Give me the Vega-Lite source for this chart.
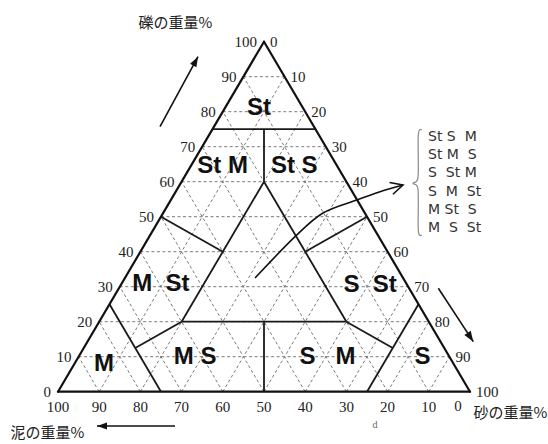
{
  "$schema": "https://vega.github.io/schema/vega-lite/v6.json",
  "width": 548,
  "height": 444,
  "autosize": {"type": "none"},
  "padding": 0,
  "background": "white",
  "config": {"view": {"stroke": null}},
  "datasets": {
    "grid": [
      {"gravel_a": 10, "sand_a": 0, "gravel_b": 10, "sand_b": 90},
      {"gravel_a": 20, "sand_a": 0, "gravel_b": 20, "sand_b": 80},
      {"gravel_a": 30, "sand_a": 0, "gravel_b": 30, "sand_b": 70},
      {"gravel_a": 40, "sand_a": 0, "gravel_b": 40, "sand_b": 60},
      {"gravel_a": 50, "sand_a": 0, "gravel_b": 50, "sand_b": 50},
      {"gravel_a": 60, "sand_a": 0, "gravel_b": 60, "sand_b": 40},
      {"gravel_a": 70, "sand_a": 0, "gravel_b": 70, "sand_b": 30},
      {"gravel_a": 80, "sand_a": 0, "gravel_b": 80, "sand_b": 20},
      {"gravel_a": 90, "sand_a": 0, "gravel_b": 90, "sand_b": 10},
      {"gravel_a": 0, "sand_a": 10, "gravel_b": 90, "sand_b": 10},
      {"gravel_a": 0, "sand_a": 20, "gravel_b": 80, "sand_b": 20},
      {"gravel_a": 0, "sand_a": 30, "gravel_b": 70, "sand_b": 30},
      {"gravel_a": 0, "sand_a": 40, "gravel_b": 60, "sand_b": 40},
      {"gravel_a": 0, "sand_a": 50, "gravel_b": 50, "sand_b": 50},
      {"gravel_a": 0, "sand_a": 60, "gravel_b": 40, "sand_b": 60},
      {"gravel_a": 0, "sand_a": 70, "gravel_b": 30, "sand_b": 70},
      {"gravel_a": 0, "sand_a": 80, "gravel_b": 20, "sand_b": 80},
      {"gravel_a": 0, "sand_a": 90, "gravel_b": 10, "sand_b": 90},
      {"gravel_a": 0, "sand_a": 90, "gravel_b": 90, "sand_b": 0},
      {"gravel_a": 0, "sand_a": 80, "gravel_b": 80, "sand_b": 0},
      {"gravel_a": 0, "sand_a": 70, "gravel_b": 70, "sand_b": 0},
      {"gravel_a": 0, "sand_a": 60, "gravel_b": 60, "sand_b": 0},
      {"gravel_a": 0, "sand_a": 50, "gravel_b": 50, "sand_b": 0},
      {"gravel_a": 0, "sand_a": 40, "gravel_b": 40, "sand_b": 0},
      {"gravel_a": 0, "sand_a": 30, "gravel_b": 30, "sand_b": 0},
      {"gravel_a": 0, "sand_a": 20, "gravel_b": 20, "sand_b": 0},
      {"gravel_a": 0, "sand_a": 10, "gravel_b": 10, "sand_b": 0}
    ],
    "bounds": [
      {"kind": "class", "gravel_a": 75, "sand_a": 0, "gravel_b": 75, "sand_b": 25},
      {"kind": "class", "gravel_a": 75, "sand_a": 12.5, "gravel_b": 60, "sand_b": 20},
      {"kind": "class", "gravel_a": 60, "sand_a": 20, "gravel_b": 20, "sand_b": 20},
      {"kind": "class", "gravel_a": 60, "sand_a": 20, "gravel_b": 20, "sand_b": 60},
      {"kind": "class", "gravel_a": 20, "sand_a": 20, "gravel_b": 20, "sand_b": 60},
      {"kind": "class", "gravel_a": 50, "sand_a": 0, "gravel_b": 40, "sand_b": 20},
      {"kind": "class", "gravel_a": 50, "sand_a": 50, "gravel_b": 40, "sand_b": 40},
      {"kind": "class", "gravel_a": 20, "sand_a": 40, "gravel_b": 0, "sand_b": 50},
      {"kind": "class", "gravel_a": 20, "sand_a": 20, "gravel_b": 12.5, "sand_b": 12.5},
      {"kind": "class", "gravel_a": 20, "sand_a": 60, "gravel_b": 12.5, "sand_b": 75},
      {"kind": "class", "gravel_a": 25, "sand_a": 0, "gravel_b": 0, "sand_b": 25},
      {"kind": "class", "gravel_a": 25, "sand_a": 75, "gravel_b": 0, "sand_b": 75},
      {"kind": "frame", "gravel_a": 0, "sand_a": 0, "gravel_b": 100, "sand_b": 0},
      {"kind": "frame", "gravel_a": 0, "sand_a": 0, "gravel_b": 0, "sand_b": 100},
      {"kind": "frame", "gravel_a": 100, "sand_a": 0, "gravel_b": 0, "sand_b": 100}
    ],
    "regions": [
      {"name": "St", "gravel": 81.0, "sand": 8.3},
      {"name": "St M", "gravel": 64.5, "sand": 7.7},
      {"name": "St S", "gravel": 64.5, "sand": 25.1},
      {"name": "M  St", "gravel": 30.7, "sand": 9.6},
      {"name": "S  St", "gravel": 30.5, "sand": 60.5},
      {"name": "M S", "gravel": 10.0, "sand": 28.3},
      {"name": "S   M", "gravel": 9.8, "sand": 60.5},
      {"name": "M", "gravel": 7.9, "sand": 7.2},
      {"name": "S", "gravel": 9.8, "sand": 83.6}
    ],
    "ticks": [
      {"side": "left", "gravel": 0, "sand": 0, "label": "0"},
      {"side": "left", "gravel": 10, "sand": 0, "label": "10"},
      {"side": "left", "gravel": 20, "sand": 0, "label": "20"},
      {"side": "left", "gravel": 30, "sand": 0, "label": "30"},
      {"side": "left", "gravel": 40, "sand": 0, "label": "40"},
      {"side": "left", "gravel": 50, "sand": 0, "label": "50"},
      {"side": "left", "gravel": 60, "sand": 0, "label": "60"},
      {"side": "left", "gravel": 70, "sand": 0, "label": "70"},
      {"side": "left", "gravel": 80, "sand": 0, "label": "80"},
      {"side": "left", "gravel": 90, "sand": 0, "label": "90"},
      {"side": "left", "gravel": 100, "sand": 0, "label": "100"},
      {"side": "right", "gravel": 100, "sand": 0, "label": "0"},
      {"side": "right", "gravel": 90, "sand": 10, "label": "10"},
      {"side": "right", "gravel": 80, "sand": 20, "label": "20"},
      {"side": "right", "gravel": 70, "sand": 30, "label": "30"},
      {"side": "right", "gravel": 60, "sand": 40, "label": "40"},
      {"side": "right", "gravel": 50, "sand": 50, "label": "50"},
      {"side": "right", "gravel": 40, "sand": 60, "label": "60"},
      {"side": "right", "gravel": 30, "sand": 70, "label": "70"},
      {"side": "right", "gravel": 20, "sand": 80, "label": "80"},
      {"side": "right", "gravel": 10, "sand": 90, "label": "90"},
      {"side": "right", "gravel": 0, "sand": 100, "label": "100"},
      {"side": "bottom", "gravel": 0, "sand": 0, "label": "100"},
      {"side": "bottom", "gravel": 0, "sand": 10, "label": "90"},
      {"side": "bottom", "gravel": 0, "sand": 20, "label": "80"},
      {"side": "bottom", "gravel": 0, "sand": 30, "label": "70"},
      {"side": "bottom", "gravel": 0, "sand": 40, "label": "60"},
      {"side": "bottom", "gravel": 0, "sand": 50, "label": "50"},
      {"side": "bottom", "gravel": 0, "sand": 60, "label": "40"},
      {"side": "bottom", "gravel": 0, "sand": 70, "label": "30"},
      {"side": "bottom", "gravel": 0, "sand": 80, "label": "20"},
      {"side": "bottom", "gravel": 0, "sand": 90, "label": "10"},
      {"side": "corner", "gravel": 0, "sand": 100, "label": "0"}
    ],
    "arrows": [
      {"arrow": "gravel", "x_a": 24.76, "y_a": 75.71, "x_b": 33.98, "y_b": 95.71},
      {"arrow": "sand", "x_a": 92.31, "y_a": 29.54, "x_b": 100.8, "y_b": 14.29},
      {"arrow": "mud", "x_a": 28.4, "y_a": -9.8, "x_b": 9.47, "y_b": -9.8}
    ],
    "curve": [
      {"step": 1, "x": 47.82, "y": 32.49},
      {"step": 2, "x": 57.52, "y": 44.29},
      {"step": 3, "x": 64.32, "y": 51.06},
      {"step": 4, "x": 72.5, "y": 54.77},
      {"step": 5, "x": 78.16, "y": 57.14},
      {"step": 6, "x": 83.74, "y": 59.06}
    ],
    "brace": [
      {"step": 1, "x": 88.28, "y": 74.77},
      {"step": 2, "x": 87.45, "y": 73.4},
      {"step": 3, "x": 87.38, "y": 61.3},
      {"step": 4, "x": 86.17, "y": 59.54},
      {"step": 5, "x": 87.38, "y": 57.8},
      {"step": 6, "x": 87.45, "y": 46.1},
      {"step": 7, "x": 88.28, "y": 44.77}
    ],
    "legend": [
      {"text": "St S  M", "x": 89.81, "y": 72.86},
      {"text": "St M  S", "x": 89.81, "y": 67.63},
      {"text": "S  St M", "x": 89.81, "y": 62.4},
      {"text": "S  M  St", "x": 89.81, "y": 57.14},
      {"text": "M St  S", "x": 89.81, "y": 51.91},
      {"text": "M  S  St", "x": 89.81, "y": 46.69}
    ],
    "titles": [
      {"text": "礫の重量%", "x": 28.52, "y": 105.34},
      {"text": "泥の重量%", "x": -2.55, "y": -11.9},
      {"text": "砂の重量%", "x": 109.83, "y": -6.09}
    ]
  },
  "layer": [
    {
      "data": {"name": "grid"},
      "transform": [
        {"calculate": "datum.sand_a + datum.gravel_a / 2", "as": "x_a"},
        {"calculate": "datum.sand_b + datum.gravel_b / 2", "as": "x_b"}
      ],
      "mark": {"type": "rule", "color": "#7a7a7a", "strokeWidth": 1, "strokeDash": [3, 2.5]},
      "encoding": {
        "x": {"field": "x_a", "type": "quantitative", "scale": {"domain": [-14.078, 118.932], "nice": false, "zero": false}, "axis": null},
        "y": {"field": "gravel_a", "type": "quantitative", "scale": {"domain": [-14.943, 111.914], "nice": false, "zero": false}, "axis": null},
        "x2": {"field": "x_b"},
        "y2": {"field": "gravel_b"}
      }
    },
    {
      "data": {"name": "bounds"},
      "transform": [
        {"filter": "datum.kind === 'class'"},
        {"calculate": "datum.sand_a + datum.gravel_a / 2", "as": "x_a"},
        {"calculate": "datum.sand_b + datum.gravel_b / 2", "as": "x_b"}
      ],
      "mark": {"type": "rule", "color": "#1a1a1a", "strokeWidth": 1.8},
      "encoding": {
        "x": {"field": "x_a", "type": "quantitative", "scale": {"domain": [-14.078, 118.932], "nice": false, "zero": false}, "axis": null},
        "y": {"field": "gravel_a", "type": "quantitative", "scale": {"domain": [-14.943, 111.914], "nice": false, "zero": false}, "axis": null},
        "x2": {"field": "x_b"},
        "y2": {"field": "gravel_b"}
      }
    },
    {
      "data": {"name": "bounds"},
      "transform": [
        {"filter": "datum.kind === 'frame'"},
        {"calculate": "datum.sand_a + datum.gravel_a / 2", "as": "x_a"},
        {"calculate": "datum.sand_b + datum.gravel_b / 2", "as": "x_b"}
      ],
      "mark": {"type": "rule", "color": "#111", "strokeWidth": 2.2, "strokeCap": "round"},
      "encoding": {
        "x": {"field": "x_a", "type": "quantitative", "scale": {"domain": [-14.078, 118.932], "nice": false, "zero": false}, "axis": null},
        "y": {"field": "gravel_a", "type": "quantitative", "scale": {"domain": [-14.943, 111.914], "nice": false, "zero": false}, "axis": null},
        "x2": {"field": "x_b"},
        "y2": {"field": "gravel_b"}
      }
    },
    {
      "data": {"name": "regions"},
      "transform": [
        {"calculate": "datum.sand + datum.gravel / 2", "as": "x"},
        {"calculate": "replace(datum.name, / /g, '\u00a0')", "as": "shown"}
      ],
      "mark": {"type": "text", "font": "Liberation Sans", "fontWeight": "bold", "fontSize": 24, "color": "#111", "align": "center", "baseline": "middle"},
      "encoding": {
        "x": {"field": "x", "type": "quantitative", "scale": {"domain": [-14.078, 118.932], "nice": false, "zero": false}, "axis": null},
        "y": {"field": "gravel", "type": "quantitative", "scale": {"domain": [-14.943, 111.914], "nice": false, "zero": false}, "axis": null},
        "text": {"field": "shown"}
      }
    },
    {
      "data": {"name": "ticks"},
      "transform": [
        {"filter": "datum.side === 'left'"},
        {"calculate": "datum.sand + datum.gravel / 2", "as": "x"}
      ],
      "mark": {"type": "text", "font": "Liberation Serif", "fontSize": 15, "color": "#222", "align": "right", "baseline": "middle", "dx": -7},
      "encoding": {
        "x": {"field": "x", "type": "quantitative", "scale": {"domain": [-14.078, 118.932], "nice": false, "zero": false}, "axis": null},
        "y": {"field": "gravel", "type": "quantitative", "scale": {"domain": [-14.943, 111.914], "nice": false, "zero": false}, "axis": null},
        "text": {"field": "label"}
      }
    },
    {
      "data": {"name": "ticks"},
      "transform": [
        {"filter": "datum.side === 'right'"},
        {"calculate": "datum.sand + datum.gravel / 2", "as": "x"}
      ],
      "mark": {"type": "text", "font": "Liberation Serif", "fontSize": 15, "color": "#222", "align": "left", "baseline": "middle", "dx": 6},
      "encoding": {
        "x": {"field": "x", "type": "quantitative", "scale": {"domain": [-14.078, 118.932], "nice": false, "zero": false}, "axis": null},
        "y": {"field": "gravel", "type": "quantitative", "scale": {"domain": [-14.943, 111.914], "nice": false, "zero": false}, "axis": null},
        "text": {"field": "label"}
      }
    },
    {
      "data": {"name": "ticks"},
      "transform": [
        {"filter": "datum.side === 'bottom'"},
        {"calculate": "datum.sand + datum.gravel / 2", "as": "x"}
      ],
      "mark": {"type": "text", "font": "Liberation Serif", "fontSize": 15, "color": "#222", "align": "center", "baseline": "middle", "dy": 15},
      "encoding": {
        "x": {"field": "x", "type": "quantitative", "scale": {"domain": [-14.078, 118.932], "nice": false, "zero": false}, "axis": null},
        "y": {"field": "gravel", "type": "quantitative", "scale": {"domain": [-14.943, 111.914], "nice": false, "zero": false}, "axis": null},
        "text": {"field": "label"}
      }
    },
    {
      "data": {"name": "ticks"},
      "transform": [
        {"filter": "datum.side === 'corner'"},
        {"calculate": "datum.sand + datum.gravel / 2", "as": "x"}
      ],
      "mark": {"type": "text", "font": "Liberation Serif", "fontSize": 15, "color": "#222", "align": "center", "baseline": "middle", "dy": 14, "dx": -12},
      "encoding": {
        "x": {"field": "x", "type": "quantitative", "scale": {"domain": [-14.078, 118.932], "nice": false, "zero": false}, "axis": null},
        "y": {"field": "gravel", "type": "quantitative", "scale": {"domain": [-14.943, 111.914], "nice": false, "zero": false}, "axis": null},
        "text": {"field": "label"}
      }
    },
    {
      "data": {"name": "arrows"},
      "mark": {"type": "rule", "color": "#111", "strokeWidth": 1.6},
      "encoding": {
        "x": {"field": "x_a", "type": "quantitative", "scale": {"domain": [-14.078, 118.932], "nice": false, "zero": false}, "axis": null},
        "y": {"field": "y_a", "type": "quantitative", "scale": {"domain": [-14.943, 111.914], "nice": false, "zero": false}, "axis": null},
        "x2": {"field": "x_b"},
        "y2": {"field": "y_b"}
      }
    },
    {
      "data": {"name": "arrows"},
      "transform": [{"filter": "datum.arrow === 'gravel'"}],
      "mark": {"type": "point", "shape": "M0,0L-1,-0.36L-1,0.36Z", "filled": true, "color": "#111", "opacity": 1, "size": 400, "angle": 298.5},
      "encoding": {
        "x": {"field": "x_b", "type": "quantitative", "scale": {"domain": [-14.078, 118.932], "nice": false, "zero": false}, "axis": null},
        "y": {"field": "y_b", "type": "quantitative", "scale": {"domain": [-14.943, 111.914], "nice": false, "zero": false}, "axis": null}
      }
    },
    {
      "data": {"name": "arrows"},
      "transform": [{"filter": "datum.arrow === 'sand'"}],
      "mark": {"type": "point", "shape": "M0,0L-1,-0.36L-1,0.36Z", "filled": true, "color": "#111", "opacity": 1, "size": 440, "angle": 56.8},
      "encoding": {
        "x": {"field": "x_b", "type": "quantitative", "scale": {"domain": [-14.078, 118.932], "nice": false, "zero": false}, "axis": null},
        "y": {"field": "y_b", "type": "quantitative", "scale": {"domain": [-14.943, 111.914], "nice": false, "zero": false}, "axis": null}
      }
    },
    {
      "data": {"name": "arrows"},
      "transform": [{"filter": "datum.arrow === 'mud'"}],
      "mark": {"type": "point", "shape": "M0,0L-1,-0.36L-1,0.36Z", "filled": true, "color": "#111", "opacity": 1, "size": 400, "angle": 180},
      "encoding": {
        "x": {"field": "x_b", "type": "quantitative", "scale": {"domain": [-14.078, 118.932], "nice": false, "zero": false}, "axis": null},
        "y": {"field": "y_b", "type": "quantitative", "scale": {"domain": [-14.943, 111.914], "nice": false, "zero": false}, "axis": null}
      }
    },
    {
      "data": {"name": "curve"},
      "mark": {"type": "line", "color": "#111", "strokeWidth": 1.6, "interpolate": "cardinal"},
      "encoding": {
        "x": {"field": "x", "type": "quantitative", "scale": {"domain": [-14.078, 118.932], "nice": false, "zero": false}, "axis": null},
        "y": {"field": "y", "type": "quantitative", "scale": {"domain": [-14.943, 111.914], "nice": false, "zero": false}, "axis": null},
        "order": {"field": "step", "type": "quantitative"}
      }
    },
    {
      "data": {"name": "curve"},
      "transform": [{"filter": "datum.step === 6"}],
      "mark": {"type": "point", "shape": "M-1,-0.5L0,0L-1,0.5", "filled": false, "color": "#111", "opacity": 1, "strokeWidth": 1.6, "size": 600, "angle": 344},
      "encoding": {
        "x": {"field": "x", "type": "quantitative", "scale": {"domain": [-14.078, 118.932], "nice": false, "zero": false}, "axis": null},
        "y": {"field": "y", "type": "quantitative", "scale": {"domain": [-14.943, 111.914], "nice": false, "zero": false}, "axis": null}
      }
    },
    {
      "data": {"name": "brace"},
      "mark": {"type": "line", "color": "#8a8a8a", "strokeWidth": 1.2, "interpolate": "cardinal"},
      "encoding": {
        "x": {"field": "x", "type": "quantitative", "scale": {"domain": [-14.078, 118.932], "nice": false, "zero": false}, "axis": null},
        "y": {"field": "y", "type": "quantitative", "scale": {"domain": [-14.943, 111.914], "nice": false, "zero": false}, "axis": null},
        "order": {"field": "step", "type": "quantitative"}
      }
    },
    {
      "data": {"name": "legend"},
      "transform": [{"calculate": "replace(datum.text, / /g, '\u00a0')", "as": "shown"}],
      "mark": {"type": "text", "font": "DejaVu Sans", "fontSize": 14, "color": "#333", "align": "left", "baseline": "middle"},
      "encoding": {
        "x": {"field": "x", "type": "quantitative", "scale": {"domain": [-14.078, 118.932], "nice": false, "zero": false}, "axis": null},
        "y": {"field": "y", "type": "quantitative", "scale": {"domain": [-14.943, 111.914], "nice": false, "zero": false}, "axis": null},
        "text": {"field": "shown"}
      }
    },
    {
      "data": {"name": "titles"},
      "mark": {"type": "text", "font": "Noto Sans CJK JP", "fontSize": 15, "color": "#222", "align": "center", "baseline": "middle"},
      "encoding": {
        "x": {"field": "x", "type": "quantitative", "scale": {"domain": [-14.078, 118.932], "nice": false, "zero": false}, "axis": null},
        "y": {"field": "y", "type": "quantitative", "scale": {"domain": [-14.943, 111.914], "nice": false, "zero": false}, "axis": null},
        "text": {"field": "text"}
      }
    },
    {
      "data": {"values": [{"text": "d", "x": 76.94, "y": -9.51}]},
      "mark": {"type": "text", "font": "Liberation Serif", "fontSize": 10, "color": "#666", "align": "center", "baseline": "middle"},
      "encoding": {
        "x": {"field": "x", "type": "quantitative", "scale": {"domain": [-14.078, 118.932], "nice": false, "zero": false}, "axis": null},
        "y": {"field": "y", "type": "quantitative", "scale": {"domain": [-14.943, 111.914], "nice": false, "zero": false}, "axis": null},
        "text": {"field": "text"}
      }
    }
  ]
}
